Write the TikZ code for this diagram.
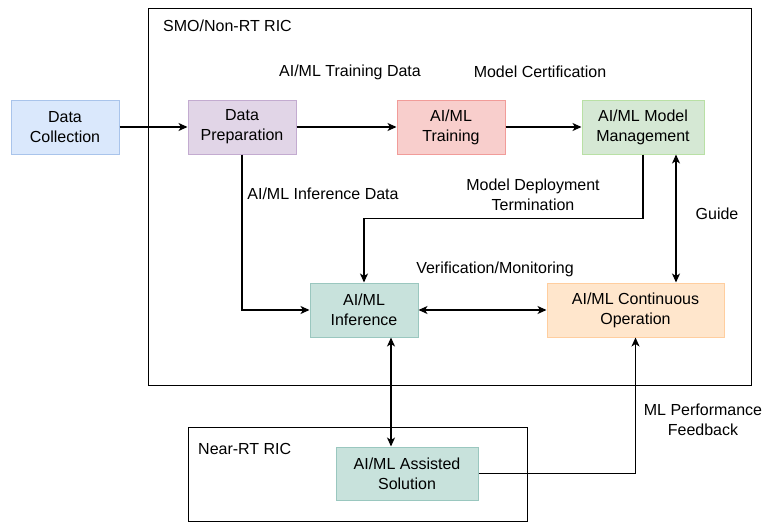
\documentclass[tikz,border=0pt]{standalone}
\usepackage{fontspec}
\setmainfont{Liberation Sans}
\usetikzlibrary{arrows.meta,calc}
\definecolor{bluefill}{HTML}{DAE8FC}\definecolor{bluedraw}{HTML}{A9C4EB}
\definecolor{purfill}{HTML}{E1D5E7}\definecolor{purdraw}{HTML}{C3ABD0}
\definecolor{redfill}{HTML}{F8CECC}\definecolor{reddraw}{HTML}{F19C99}
\definecolor{grnfill}{HTML}{D5E8D4}\definecolor{grndraw}{HTML}{B9E0A5}
\definecolor{tealfill}{HTML}{C8E2DC}\definecolor{tealdraw}{HTML}{9AC7BF}
\definecolor{orfill}{HTML}{FFE6CC}\definecolor{ordraw}{HTML}{FFCE9F}
\tikzset{
  every node/.style={font=\fontsize{16}{20}\selectfont, inner sep=0pt},
  box/.style={draw, line width=1pt, align=center, minimum height=54pt},
  lbl/.style={align=center},
  conn/.style={line width=1.3pt, -{Stealth[length=9pt,width=8pt,inset=2.5pt]}},
  conn2/.style={line width=1.3pt, {Stealth[length=9pt,width=8pt,inset=2.5pt]}-{Stealth[length=9pt,width=8pt,inset=2.5pt]}},
  frame/.style={draw, line width=1pt}
}
\begin{document}
\begin{tikzpicture}[x=1pt,y=-1pt]
\useasboundingbox (0,0) rectangle (765,525);
\draw[frame] (148,8) rectangle (751,385);
\draw[frame] (188,427) rectangle (527,521);
\node[anchor=west] (smo) at (163,26) {SMO/Non-RT RIC};
\node[anchor=west] (near) at (198,449) {Near-RT RIC};

\node[box, fill=bluefill, draw=bluedraw, minimum width=108pt] (dc) at (65,127) {Data\\Collection};
\node[box, fill=purfill, draw=purdraw, minimum width=108pt] (dp) at (242,127) {Data\\Preparation};
\node[box, fill=redfill, draw=reddraw, minimum width=108pt] (tr) at (451,127) {AI/ML\\Training};
\node[box, fill=grnfill, draw=grndraw, minimum width=122pt] (mm) at (643,127) {AI/ML Model\\Management};
\node[box, fill=tealfill, draw=tealdraw, minimum width=108pt] (inf) at (364,310) {AI/ML\\Inference};
\node[box, fill=orfill, draw=ordraw, minimum width=177pt] (co) at (635.5,310) {AI/ML Continuous\\Operation};
\node[box, fill=tealfill, draw=tealdraw, minimum width=142pt, minimum height=53pt] (as) at (407,473.5) {AI/ML Assisted\\Solution};

\node[lbl] (l1) at (350,72) {AI/ML Training Data};
\node[lbl] (l2) at (540,72) {Model Certification};
\node[lbl] (l3) at (323,194) {AI/ML Inference Data};
\node[lbl] (l4) at (533,195) {Model Deployment\\Termination};
\node[lbl] (l5) at (717,214) {Guide};
\node[lbl] (l6) at (495,269) {Verification/Monitoring};
\node[lbl] (l7) at (703,420) {ML Performance\\Feedback};

\draw[conn] (dc.east) -- (dp.west);
\draw[conn] (dp.east) -- (tr.west);
\draw[conn] (tr.east) -- (mm.west);
\draw[conn] (dp.south) |- (inf.west);
\draw[conn] (mm.south) -- ($(mm.south)+(0,64)$) -| (inf.north);
\draw[conn2] ([xshift=33pt]mm.south) -- ([xshift=33pt]mm.south |- co.north);
\draw[conn2] (inf.east) -- (co.west);
\draw[conn2] ([xshift=27pt]inf.south) -- ([xshift=27pt]inf.south |- as.north);
\draw[conn] (as.east) -| (co.south);
\end{tikzpicture}
\end{document}
